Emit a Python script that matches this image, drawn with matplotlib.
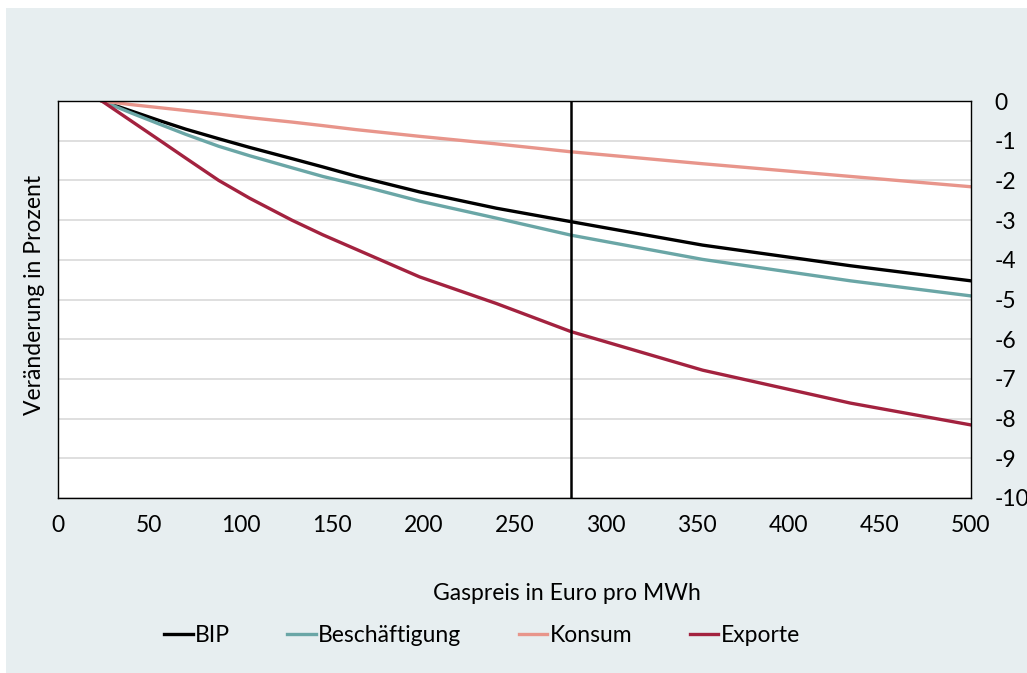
import numpy as np
import matplotlib.pyplot as plt
from matplotlib.patches import Rectangle

plt.rcParams['font.family'] = ['Lato', 'DejaVu Sans']
plt.rcParams['axes.unicode_minus'] = False

# gas price (Euro/MWh) and change in percent
gaspreis = [24, 40, 56, 70, 88, 105, 128, 145, 163, 198, 240, 281, 353, 434, 500]
bip = [0, -0.25, -0.50, -0.71, -0.95, -1.17, -1.45, -1.66, -1.89, -2.29, -2.70, -3.04, -3.63, -4.15, -4.53]
beschaeftigung = [0, -0.30, -0.59, -0.84, -1.14, -1.38, -1.68, -1.90, -2.10, -2.52, -2.95, -3.38, -3.99, -4.53, -4.91]
konsum = [0, -0.09, -0.17, -0.24, -0.33, -0.42, -0.53, -0.62, -0.72, -0.89, -1.08, -1.28, -1.58, -1.90, -2.16]
exporte = [0, -0.50, -1.00, -1.44, -2.00, -2.45, -3.00, -3.37, -3.73, -4.43, -5.10, -5.81, -6.78, -7.61, -8.16]
marker_x = 281

xticks = list(range(0, 501, 50))
yticks = list(range(0, -11, -1))

fs = 16.5

fig = plt.figure(figsize=(10.27, 6.73), dpi=100)
fig.patch.set_facecolor('white')
# light blue panel behind the chart
bg = Rectangle((6 / 1027, 0), 1 - 6 / 1027, 1 - 8 / 673,
               transform=fig.transFigure, facecolor='#e7eef0',
               edgecolor='none', zorder=-5)
fig.add_artist(bg)

ax = fig.add_axes([58 / 1027, 1 - 498 / 673, (971 - 58) / 1027, (498 - 101) / 673])
ax.set_facecolor('white')

ax.plot(gaspreis, bip, color='black', lw=2.4, label='BIP')
ax.plot(gaspreis, beschaeftigung, color='#6aa6a6', lw=2.4, label='Beschäftigung')
ax.plot(gaspreis, konsum, color='#e8958b', lw=2.4, label='Konsum')
ax.plot(gaspreis, exporte, color='#a3223f', lw=2.4, label='Exporte')
ax.axvline(marker_x, color='black', lw=1.8)

ax.set_xlim(0, 500)
ax.set_ylim(-10, 0)
ax.set_xticks(xticks)
ax.set_yticks(yticks)
ax.yaxis.tick_right()
ax.tick_params(axis='both', length=0, labelsize=fs, colors='black')
ax.tick_params(axis='x', pad=12)
ax.tick_params(axis='y', pad=17)
ax.grid(axis='y', color='#d9d9d9', lw=1.2)
ax.set_axisbelow(True)
for s in ax.spines.values():
    s.set_color('black')
    s.set_linewidth(1.0)

fig.text(35 / 1027, 1 - 295 / 673, 'Veränderung in Prozent', rotation=90,
         ha='center', va='center', fontsize=fs)
fig.text(567 / 1027, 1 - 593 / 673, 'Gaspreis in Euro pro MWh',
         ha='center', va='center', fontsize=fs)

fig.legend(loc='center left', bbox_to_anchor=(164 / 1027, 1 - 636 / 673), ncol=4,
           frameon=False, fontsize=fs, handlelength=1.25, handletextpad=0.1,
           columnspacing=2.5, borderpad=0, borderaxespad=0)

fig.savefig('out.png', dpi=100, facecolor=fig.get_facecolor())
